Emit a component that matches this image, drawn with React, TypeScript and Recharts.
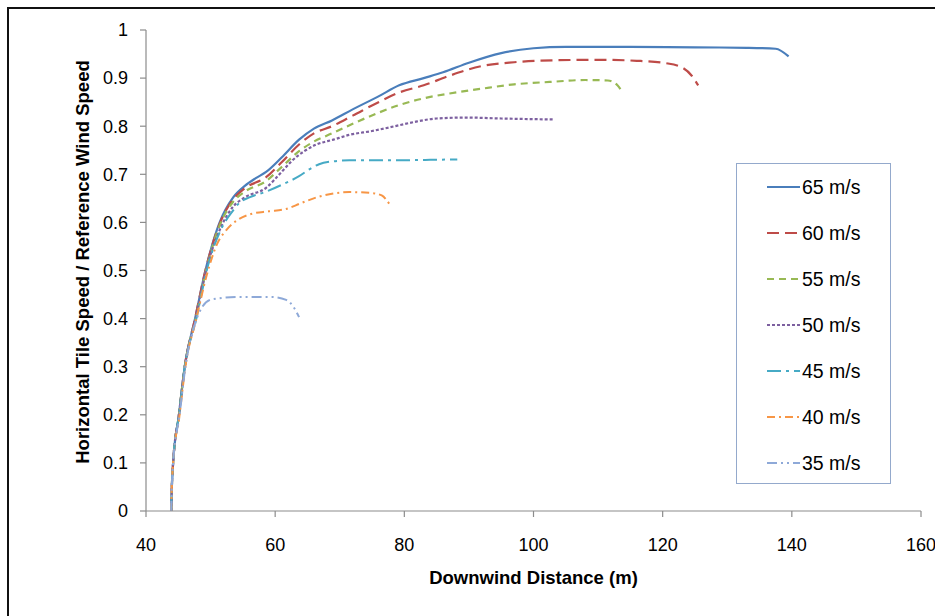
import { LineChart, Line, XAxis, YAxis } from "recharts";

// x = downwind distance (m), y = tile speed / reference wind speed
const s65 = [
  [43.9, 0], [44.0, 0.05], [44.2, 0.1], [45.1, 0.2], [46.0, 0.3], [47.6, 0.4], [49.2, 0.5],
  [51.4, 0.6], [53.5, 0.652], [55.3, 0.676], [57, 0.692], [58.6, 0.705], [61, 0.735],
  [63.7, 0.772], [66, 0.795], [68.8, 0.812], [72, 0.835], [76, 0.862], [79.2, 0.885],
  [83, 0.9], [86, 0.912], [90, 0.932], [95, 0.952], [100, 0.962], [105, 0.965],
  [115, 0.965], [125, 0.964], [133, 0.963], [137.5, 0.961], [139.5, 0.945],
];
const s60 = [
  [43.9, 0], [44.0, 0.05], [44.2, 0.1], [45.1, 0.2], [46.0, 0.3], [47.6, 0.4], [49.2, 0.5],
  [51.5, 0.6], [53.5, 0.648], [55.3, 0.671], [58.6, 0.694], [61, 0.725], [63.7, 0.762],
  [66, 0.785], [68.8, 0.8], [72, 0.822], [76, 0.85], [79.2, 0.87], [83, 0.885],
  [87, 0.905], [92, 0.925], [97, 0.933], [103, 0.937], [110, 0.938], [116, 0.936],
  [120.5, 0.931], [123, 0.922], [124.5, 0.905], [125.5, 0.885],
];
const s55 = [
  [43.9, 0], [44.0, 0.05], [44.2, 0.1], [45.1, 0.2], [46.0, 0.3], [47.7, 0.4], [49.3, 0.5],
  [51.6, 0.6], [53.5, 0.643], [55.3, 0.664], [58.6, 0.686], [61, 0.715], [63.7, 0.748],
  [66, 0.768], [68.8, 0.785], [72, 0.805], [76, 0.828], [79.2, 0.844], [83, 0.858],
  [87, 0.868], [92, 0.878], [97, 0.887], [102.5, 0.892], [108, 0.896], [111.5, 0.895],
  [113, 0.885], [113.8, 0.87],
];
const s50 = [
  [43.9, 0], [44.0, 0.05], [44.2, 0.1], [45.1, 0.2], [46.0, 0.3], [47.7, 0.4], [49.3, 0.5],
  [51.6, 0.59], [53.5, 0.633], [55.3, 0.652], [58.6, 0.672], [61, 0.705], [62.6, 0.728],
  [64.5, 0.748], [66.4, 0.762], [69, 0.772], [71.5, 0.782], [75, 0.79], [79.2, 0.802],
  [82, 0.81], [85, 0.816], [89.6, 0.818], [95, 0.816], [103, 0.814],
];
const s45 = [
  [43.9, 0], [44.0, 0.05], [44.2, 0.1], [45.1, 0.2], [46.0, 0.3], [47.8, 0.4], [49.4, 0.5],
  [51.6, 0.585], [53.5, 0.625], [54.4, 0.64], [56, 0.652], [58.6, 0.664], [61, 0.678],
  [63.7, 0.696], [65.5, 0.712], [66.8, 0.721], [69, 0.727], [71.5, 0.729], [78, 0.729],
  [84, 0.73], [88.2, 0.731],
];
const s40 = [
  [43.9, 0], [44.0, 0.05], [44.2, 0.1], [45.2, 0.2], [46.1, 0.3], [47.8, 0.4], [49.4, 0.49],
  [51, 0.555], [52.5, 0.585], [54.4, 0.607], [56.4, 0.618], [59, 0.623], [61.7, 0.628],
  [64, 0.64], [66.4, 0.652], [69, 0.66], [71.5, 0.663], [75, 0.661], [76.5, 0.656],
  [77.7, 0.638],
];
const s35 = [
  [43.9, 0], [44.0, 0.05], [44.2, 0.1], [45.2, 0.2], [46.1, 0.3], [47.6, 0.39], [48.7, 0.424],
  [50.2, 0.44], [54.4, 0.445], [59.5, 0.445], [61.7, 0.439], [62.8, 0.425], [63.7, 0.403],
];

const xTicks = [40, 60, 80, 100, 120, 140, 160];
const yTicks = [0, 0.1, 0.2, 0.3, 0.4, 0.5, 0.6, 0.7, 0.8, 0.9, 1];

const SERIES = [
  { name: "65 m/s", pts: s65, color: "#4a7ebb", dash: undefined, w: 2.2 },
  { name: "60 m/s", pts: s60, color: "#be4b48", dash: "12 6", w: 2.2 },
  { name: "55 m/s", pts: s55, color: "#98b954", dash: "7 5", w: 2.2 },
  { name: "50 m/s", pts: s50, color: "#7d60a0", dash: "3 2", w: 2.2 },
  { name: "45 m/s", pts: s45, color: "#46aac5", dash: "14 5 3 5", w: 2 },
  { name: "40 m/s", pts: s40, color: "#f79646", dash: "8 4 2 4", w: 2 },
  { name: "35 m/s", pts: s35, color: "#8ea9d8", dash: "10 4 2 4 2 4", w: 2 },
];

const FONT = "'Liberation Sans', Arial, sans-serif";

function LegendBox() {
  return (
    <div
      style={{
        position: "absolute",
        left: 736,
        top: 163,
        width: 153,
        height: 319,
        border: "1.5px solid #94a9cc",
        background: "#fff",
        fontFamily: FONT,
      }}
    >
      {SERIES.map((s, i) => (
        <div
          key={s.name}
          style={{ position: "absolute", left: 30, top: 23 + i * 46 - 11, height: 22, display: "flex", alignItems: "center" }}
        >
          <svg width={33} height={10}>
            <line x1={0} y1={5} x2={33} y2={5} stroke={s.color} strokeWidth={2} strokeDasharray={s.dash} />
          </svg>
          <span style={{ marginLeft: 2, fontSize: 19.5, color: "#000" }}>{s.name}</span>
        </div>
      ))}
    </div>
  );
}

export default function App() {
  return (
    <div style={{ position: "absolute", left: 0, top: 0, width: 935, height: 616, background: "#fff", fontFamily: FONT, overflow: "hidden" }}>
      {/* outer frame */}
      <div
        style={{
          position: "absolute",
          left: 7,
          top: 7,
          width: 940,
          height: 620,
          borderLeft: "2px solid #111",
          borderTop: "2px solid #111",
        }}
      />
      <LineChart
        width={935}
        height={616}
        margin={{ top: 30, right: 14, bottom: 0, left: 0 }}
        style={{ position: "absolute", left: 0, top: 0 }}
      >
        <XAxis
          type="number"
          dataKey="x"
          domain={[40, 160]}
          ticks={xTicks}
          allowDuplicatedCategory={false}
          axisLine={{ stroke: "#8c8c8c", strokeWidth: 1.2 }}
          tickLine={{ stroke: "#8c8c8c", strokeWidth: 1.2 }}
          tickSize={6}
          tickMargin={21}
          tick={{ fill: "#000", fontSize: 18, fontFamily: FONT }}
          height={105}
        />
        <YAxis
          type="number"
          dataKey="y"
          domain={[0, 1]}
          ticks={yTicks}
          tickFormatter={(v: number) => String(Math.round(v * 10) / 10)}
          axisLine={{ stroke: "#8c8c8c", strokeWidth: 1.2 }}
          tickLine={{ stroke: "#8c8c8c", strokeWidth: 1.2 }}
          tickSize={6}
          tickMargin={12}
          tick={{ fill: "#000", fontSize: 18, fontFamily: FONT }}
          width={146}
        />
        {SERIES.map((s) => (
          <Line
            key={s.name}
            name={s.name}
            data={s.pts.map(([x, y]) => ({ x, y }))}
            dataKey="y"
            type="monotone"
            stroke={s.color}
            strokeWidth={s.w}
            strokeDasharray={s.dash}
            dot={false}
            activeDot={false}
            isAnimationActive={false}
          />
        ))}
      </LineChart>
      <LegendBox />
      {/* axis titles */}
      <div
        style={{
          position: "absolute",
          left: 146,
          width: 775,
          top: 567,
          textAlign: "center",
          fontWeight: "bold",
          fontSize: 18.5,
          color: "#000",
          lineHeight: "22px",
        }}
      >
        Downwind Distance (m)
      </div>
      <div
        style={{
          position: "absolute",
          left: 83 - 250,
          top: 262 - 11,
          width: 500,
          textAlign: "center",
          fontWeight: "bold",
          fontSize: 18.5,
          color: "#000",
          lineHeight: "22px",
          transform: "rotate(-90deg)",
        }}
      >
        Horizontal Tile Speed / Reference Wind Speed
      </div>
    </div>
  );
}
